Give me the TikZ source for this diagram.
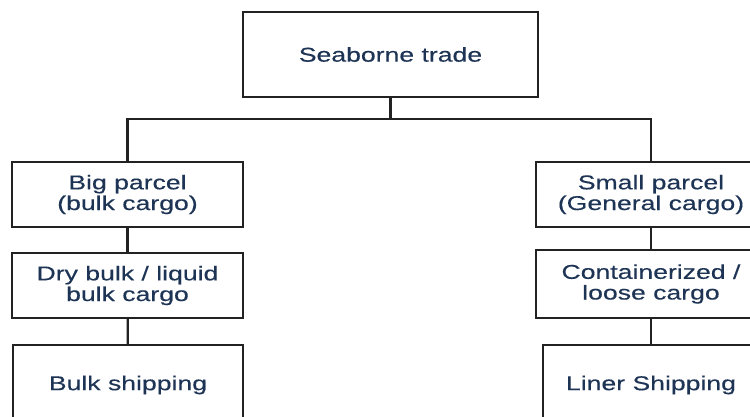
\documentclass[tikz,border=0pt]{standalone}
\usepackage{fontspec}
\setmainfont{Liberation Sans}[FakeStretch=1.33,FakeBold=0.3]
\definecolor{labelink}{RGB}{30,52,85}
\definecolor{edgeink}{RGB}{34,34,34}
\begin{document}
\begin{tikzpicture}[x=1pt,y=-1pt,
  box/.style={draw=edgeink,line width=2.3pt,rectangle,inner sep=0pt,
    align=center,text=labelink,
    font=\fontsize{20}{20.7}\selectfont},
  link/.style={draw=edgeink,line width=2.3pt}]
  \useasboundingbox (0,0) rectangle (750,416);
  \clip (0,0) rectangle (750,416);

  % root
  \node[box,minimum width=295pt,minimum height=85pt] (top) at (390.5,54.5) {Seaborne trade};

  % left branch
  \node[box,minimum width=231pt,minimum height=65pt] (big) at (127.5,194.5) {Big parcel\\(bulk cargo)};
  \node[box,minimum width=231pt,minimum height=65pt] (dry) at (127.5,285.5) {Dry bulk / liquid\\bulk cargo};
  \node[box,minimum width=230pt,minimum height=80pt] (bulk) at (128,385) {Bulk shipping};

  % right branch
  \node[box,minimum width=230pt,minimum height=65pt] (small) at (651,194.5) {Small parcel\\(General cargo)};
  \node[box,minimum width=230pt,minimum height=68pt] (cont) at (651,284) {Containerized /\\loose cargo};
  \node[box,minimum width=216pt,minimum height=80pt] (liner) at (651,385) {Liner Shipping};

  % connectors
  \coordinate (split) at (390.5,119);
  \draw[link] (top.south) -- (split);
  \draw[link] (big.north) |- (split) -| (small.north);
  \draw[link] (big) -- (dry);
  \draw[link] (dry) -- (bulk);
  \draw[link] (small) -- (cont);
  \draw[link] (cont) -- (liner);
\end{tikzpicture}
\end{document}
